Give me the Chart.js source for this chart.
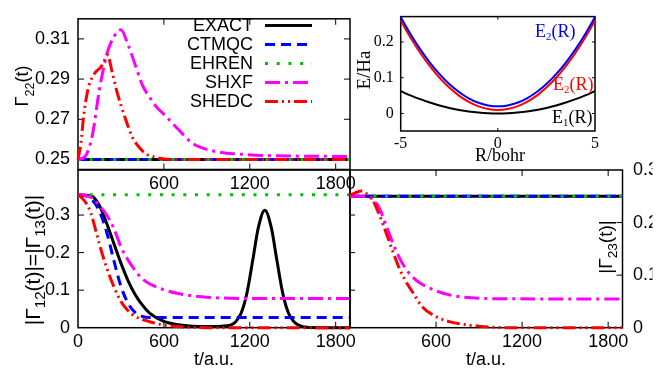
<!DOCTYPE html>
<html>
<head>
<meta charset="utf-8">
<script src="https://cdn.jsdelivr.net/npm/chart.js@4.4.1/dist/chart.umd.min.js"></script>
<style>
html,body{margin:0;padding:0;background:#ffffff;}
#wrap{position:relative;width:662px;height:368px;overflow:hidden;background:#fff;}
#wrap canvas{position:absolute;left:0;top:0;}
</style>
</head>
<body>
<div id="wrap">
<canvas id="cBL" width="662" height="368"></canvas>
<canvas id="cBR" width="662" height="368"></canvas>
<canvas id="cTL" width="662" height="368"></canvas>
<canvas id="cIN" width="662" height="368"></canvas>
</div>
<script>
// ================= DATA =================
const methodNames = ['EXACT', 'CTMQC', 'EHREN', 'SHXF', 'SHEDC'];

// time-axis ticks (t / a.u.)
const timeTickValues = [0, 600, 1200, 1800];
const timeTickLabels = ['0', '600', '1200', '1800'];
const timeTickValuesNoZero = [600, 1200, 1800];
const timeTickLabelsNoZero = ['600', '1200', '1800'];

// --- Panel 1: Gamma_22(t) ---
const g22TickValues = [0.25, 0.27, 0.29, 0.31];
const g22TickLabels = ['0.25', '0.27', '0.29', '0.31'];
const t22Flat = [0, 1900];
const g22Exact = [0.25, 0.25];
const g22Ctmqc = [0.25, 0.25];
const g22Ehren = [0.25, 0.25];
const t22Shxf = [0, 50, 100, 150, 200, 250, 300, 350, 400, 450, 500, 550, 600, 700, 800, 900, 1000, 1100, 1300, 1600, 1900];
const g22Shxf = [0.25, 0.2515, 0.262, 0.285, 0.302, 0.311, 0.3145, 0.307, 0.297, 0.287, 0.281, 0.276, 0.2725, 0.265, 0.258, 0.255, 0.2535, 0.2528, 0.252, 0.2516, 0.2515];
const t22Shedc = [0, 20, 40, 70, 100, 130, 160, 190, 205, 240, 270, 300, 340, 380, 430, 480, 525, 600, 700, 1900];
const g22Shedc = [0.25, 0.258, 0.272, 0.285, 0.291, 0.294, 0.296, 0.300, 0.302, 0.293, 0.2843, 0.277, 0.2685, 0.261, 0.2558, 0.2525, 0.2514, 0.2502, 0.25, 0.25];

// --- Panel 2: |Gamma_12(t)| = |Gamma_13(t)| ---
const g12TickValues = [0, 0.1, 0.2, 0.3];
const g12TickLabels = ['0', '0.1', '0.2', '0.3'];
const t12Flat = [0, 1900];
const g12Ehren = [0.354, 0.354];
const t12Exact = [0, 50, 100, 150, 200, 250, 300, 350, 400, 450, 500, 600, 700, 800, 900, 1000, 1065, 1100, 1140, 1180, 1220, 1260, 1305, 1350, 1390, 1430, 1470, 1510, 1545, 1600, 1700, 1900];
const g12Exact = [0.354, 0.353, 0.35, 0.325, 0.278, 0.225, 0.172, 0.125, 0.088, 0.06, 0.039, 0.017, 0.008, 0.004, 0.003, 0.004, 0.007, 0.015, 0.039, 0.092, 0.178, 0.267, 0.313, 0.267, 0.178, 0.092, 0.039, 0.015, 0.006, 0.001, 0, 0];
const t12Ctmqc = [0, 50, 100, 150, 200, 250, 300, 350, 400, 450, 500, 600, 1900];
const g12Ctmqc = [0.354, 0.352, 0.34, 0.31, 0.255, 0.18, 0.11, 0.065, 0.04, 0.03, 0.027, 0.027, 0.027];
const t12Shxf = [0, 50, 100, 150, 200, 250, 300, 350, 400, 450, 500, 600, 700, 800, 900, 1000, 1200, 1500, 1900];
const g12Shxf = [0.354, 0.353, 0.345, 0.325, 0.3, 0.265, 0.215, 0.18, 0.152, 0.13, 0.117, 0.101, 0.091, 0.085, 0.081, 0.079, 0.078, 0.078, 0.078];
const t12Shedc = [0, 30, 60, 90, 120, 150, 200, 250, 300, 350, 400, 500, 600, 700, 800, 900, 1900];
const g12Shedc = [0.354, 0.345, 0.33, 0.305, 0.265, 0.222, 0.16, 0.11, 0.07, 0.045, 0.03, 0.016, 0.007, 0.003, 0.001, 0, 0];

// --- Panel 3: |Gamma_23(t)| ---
const g23TickValues = [0, 0.1, 0.2, 0.3];
const g23TickLabels = ['0', '0.1', '0.2', '0.3'];
const t23Flat = [0, 1900];
const g23Exact = [0.25, 0.25];
const g23Ctmqc = [0.25, 0.25];
const g23Ehren = [0.25, 0.25];
const t23Shxf = [0, 100, 150, 200, 250, 300, 350, 400, 450, 500, 600, 700, 800, 900, 1100, 1900];
const g23Shxf = [0.25, 0.25, 0.246, 0.23, 0.196, 0.16, 0.13, 0.108, 0.093, 0.083, 0.07, 0.062, 0.058, 0.056, 0.055, 0.0545];
const t23Shedc = [0, 40, 80, 120, 160, 200, 250, 300, 350, 400, 450, 500, 600, 700, 800, 900, 1000, 1100, 1900];
const g23Shedc = [0.252, 0.257, 0.26, 0.254, 0.242, 0.218, 0.182, 0.144, 0.109, 0.083, 0.062, 0.041, 0.021, 0.011, 0.006, 0.003, 0.001, 0, 0];

// --- Inset: potential energy curves ---
const rBohr = [-5, -4.5, -4, -3.5, -3, -2.5, -2, -1.5, -1, -0.5, 0, 0.5, 1, 1.5, 2, 2.5, 3, 3.5, 4, 4.5, 5];
const eOne = [0.0625, 0.0506, 0.04, 0.0306, 0.0225, 0.0156, 0.01, 0.0056, 0.0025, 0.0006, 0, 0.0006, 0.0025, 0.0056, 0.01, 0.0156, 0.0225, 0.0306, 0.04, 0.0506, 0.0625];
const eTwoRed = [0.26, 0.2125, 0.17, 0.1325, 0.1, 0.0725, 0.05, 0.0325, 0.02, 0.0125, 0.01, 0.0125, 0.02, 0.0325, 0.05, 0.0725, 0.1, 0.1325, 0.17, 0.2125, 0.26];
const eTwoBlue = [0.27, 0.2225, 0.18, 0.1425, 0.11, 0.0825, 0.06, 0.0425, 0.03, 0.0225, 0.02, 0.0225, 0.03, 0.0425, 0.06, 0.0825, 0.11, 0.1425, 0.18, 0.2225, 0.27];
const insetXTickValues = [-5, 0, 5];
const insetXTickLabels = ['-5', '0', '5'];
const insetYTickValues = [0, 0.1, 0.2];
const insetYTickLabels = ['0', '0.1', '0.2'];

// ================= STYLES =================
const SANS = "'Liberation Sans', Arial, Helvetica, sans-serif";
const SERIF = "'Liberation Serif', 'Times New Roman', serif";
const STY = {
  EXACT: {color: '#000000', width: 3, dash: []},
  CTMQC: {color: '#0000ff', width: 3, dash: [10, 6]},
  EHREN: {color: '#00c000', width: 3, dash: [3, 8.7]},
  SHXF:  {color: '#ff00ff', width: 3, dash: [15, 5, 3, 5]},
  SHEDC: {color: '#ff0000', width: 3, dash: [13, 4, 2, 4, 2, 4]}
};

function ser(label, t, v, sty) { return {label, t, v, sty}; }

function drawRich(ctx, parts, x, y, opt) {
  const size = opt.size, fam = opt.family;
  const subScale = opt.subScale || 0.7, subDrop = opt.subDrop || 0.28;
  ctx.save();
  ctx.translate(x, y);
  if (opt.rot) ctx.rotate(opt.rot);
  let tw = 0;
  const widths = parts.map(p => {
    ctx.font = (p[1] ? size * subScale : size) + 'px ' + fam;
    const w = ctx.measureText(p[0]).width; tw += w; return w;
  });
  let cx = opt.align === 'right' ? -tw : (opt.align === 'left' ? 0 : -tw / 2);
  const base = 0.36 * size;
  ctx.fillStyle = opt.color || '#000';
  ctx.textBaseline = 'alphabetic';
  ctx.textAlign = 'left';
  parts.forEach((p, i) => {
    ctx.font = (p[1] ? size * subScale : size) + 'px ' + fam;
    ctx.fillText(p[0], cx, base + (p[1] ? subDrop * size : 0));
    cx += widths[i];
  });
  ctx.restore();
}

function buildPanel(id, spec) {
  const W = 662, H = 368, yW = 70, yWR = 30, xH = 30;
  const right = spec.yPos === 'right';
  const a = spec.area;
  const padding = {
    left: right ? a.l : a.l - yW,
    right: right ? W - a.r - yWR : W - a.r,
    top: a.t,
    bottom: H - a.b - xH
  };
  const datasets = spec.series.map((s, i) => ({
    label: s.label,
    data: s.t.map((t, k) => ({x: t, y: s.v[k]})),
    borderColor: s.sty.color,
    borderWidth: s.sty.width,
    borderDash: s.sty.dash,
    borderCapStyle: 'butt',
    borderJoinStyle: 'round',
    pointRadius: 0,
    pointHoverRadius: 0,
    fill: false,
    cubicInterpolationMode: 'monotone',
    clip: false,
    order: spec.series.length - i
  }));
  const frame = {
    id: 'frame_' + id,
    beforeDatasetsDraw(chart) {
      const ctx = chart.ctx, ca = chart.chartArea;
      const xs = chart.scales.x, ys = chart.scales.y;
      ctx.save();
      ctx.strokeStyle = '#000';
      ctx.lineWidth = spec.frameWidth || 1.5;
      ctx.strokeRect(ca.left, ca.top, ca.right - ca.left, ca.bottom - ca.top);
      const m = spec.marks, L = m.len;
      ctx.lineWidth = 1;
      ctx.beginPath();
      (m.bottom || []).forEach(v => { const p = xs.getPixelForValue(v); ctx.moveTo(p, ca.bottom); ctx.lineTo(p, ca.bottom - L); });
      (m.top || []).forEach(v => { const p = xs.getPixelForValue(v); ctx.moveTo(p, ca.top); ctx.lineTo(p, ca.top + L); });
      (m.left || []).forEach(v => { const p = ys.getPixelForValue(v); ctx.moveTo(ca.left, p); ctx.lineTo(ca.left + L, p); });
      (m.right || []).forEach(v => { const p = ys.getPixelForValue(v); ctx.moveTo(ca.right, p); ctx.lineTo(ca.right - (m.rightLen || L), p); });
      ctx.stroke();
      ctx.restore();
    },
    afterDraw(chart) {
      const ctx = chart.ctx;
      (spec.texts || []).forEach(tx => drawRich(ctx, tx.parts, tx.x, tx.y, tx));
      if (spec.legend) {
        const lg = spec.legend;
        lg.items.forEach((s, i) => {
          const y = lg.y0 + i * lg.dy;
          ctx.save();
          ctx.font = lg.size + 'px ' + SANS;
          ctx.fillStyle = '#000';
          ctx.textAlign = 'right';
          ctx.textBaseline = 'middle';
          ctx.fillText(s.label, lg.textX, y + 1);
          ctx.strokeStyle = s.sty.color;
          ctx.lineWidth = s.sty.width;
          ctx.setLineDash(s.sty.dash);
          ctx.lineCap = 'butt';
          ctx.beginPath();
          ctx.moveTo(lg.x1, y);
          ctx.lineTo(lg.x2, y);
          ctx.stroke();
          ctx.restore();
        });
      }
    }
  };
  const tickFont = {family: spec.family || SANS, size: spec.tickSize || 18};
  return new Chart(document.getElementById(id), {
    type: 'line',
    data: {datasets},
    options: {
      responsive: false,
      animation: false,
      devicePixelRatio: 1,
      events: [],
      layout: {padding},
      plugins: {legend: {display: false}, tooltip: {enabled: false}},
      scales: {
        x: {
          type: 'linear', position: 'bottom',
          min: spec.xRange[0], max: spec.xRange[1],
          grid: {display: false, drawTicks: false},
          border: {display: false},
          afterBuildTicks: sc => { sc.ticks = spec.xTicks.map(v => ({value: v})); },
          afterFit: sc => { sc.height = xH; },
          ticks: {font: tickFont, color: '#000', padding: spec.xPad, maxRotation: 0, autoSkip: false,
                  callback: (v, i) => spec.xLabels[i]}
        },
        y: {
          type: 'linear', position: right ? 'right' : 'left',
          min: spec.yRange[0], max: spec.yRange[1],
          grid: {display: false, drawTicks: false},
          border: {display: false},
          afterBuildTicks: sc => { sc.ticks = spec.yTicks.map(v => ({value: v})); },
          afterFit: sc => { sc.width = right ? yWR : yW; },
          ticks: {font: tickFont, color: '#000', padding: spec.yPad, autoSkip: false,
                  callback: (v, i) => spec.yLabels[i]}
        }
      }
    },
    plugins: [frame]
  });
}

const TL_series = [
  ser('EXACT', t22Flat, g22Exact, STY.EXACT),
  ser('CTMQC', t22Flat, g22Ctmqc, STY.CTMQC),
  ser('EHREN', t22Flat, g22Ehren, STY.EHREN),
  ser('SHXF', t22Shxf, g22Shxf, STY.SHXF),
  ser('SHEDC', t22Shedc, g22Shedc, STY.SHEDC)
];

// bottom-left
buildPanel('cBL', {
  area: {l: 78, r: 350, t: 170, b: 327.7},
  xRange: [0, 1900], yRange: [0, 0.42],
  xTicks: timeTickValues, xLabels: timeTickLabels,
  yTicks: g12TickValues, yLabels: g12TickLabels,
  xPad: 3.5, yPad: 8,
  series: [
    ser('EXACT', t12Exact, g12Exact, STY.EXACT),
    ser('CTMQC', t12Ctmqc, g12Ctmqc, STY.CTMQC),
    ser('EHREN', t12Flat, g12Ehren, STY.EHREN),
    ser('SHXF', t12Shxf, g12Shxf, STY.SHXF),
    ser('SHEDC', t12Shedc, g12Shedc, STY.SHEDC)
  ],
  marks: {len: 6, bottom: [600, 1200, 1800], left: [0.1, 0.2, 0.3], right: [0.1, 0.2, 0.3], rightLen: -5},
  texts: [
    {parts: [['|Γ', 0], ['12', 1], ['(t)|=|Γ', 0], ['13', 1], ['(t)|', 0]], x: 32, y: 260, rot: -Math.PI / 2, size: 21, subScale: 0.72, family: SANS},
    {parts: [['t/a.u.', 0]], x: 214, y: 359, size: 18, family: SANS}
  ]
});

// bottom-right
buildPanel('cBR', {
  area: {l: 350, r: 622.5, t: 170, b: 327.7},
  yPos: 'right',
  xRange: [0, 1900], yRange: [0, 0.3],
  xTicks: timeTickValuesNoZero, xLabels: timeTickLabelsNoZero,
  yTicks: g23TickValues, yLabels: g23TickLabels,
  xPad: 3.5, yPad: 10.5,
  series: [
    ser('EXACT', t23Flat, g23Exact, STY.EXACT),
    ser('CTMQC', t23Flat, g23Ctmqc, STY.CTMQC),
    ser('EHREN', t23Flat, g23Ehren, STY.EHREN),
    ser('SHXF', t23Shxf, g23Shxf, STY.SHXF),
    ser('SHEDC', t23Shedc, g23Shedc, STY.SHEDC)
  ],
  marks: {len: 6, bottom: [600, 1200, 1800], top: [600, 1200, 1800], right: [0.1, 0.2]},
  texts: [
    {parts: [['|Γ', 0], ['23', 1], ['(t)|', 0]], x: 605, y: 247, rot: -Math.PI / 2, size: 19, subScale: 0.72, family: SANS},
    {parts: [['t/a.u.', 0]], x: 486, y: 359, size: 18, family: SANS}
  ]
});

// top-left
buildPanel('cTL', {
  area: {l: 78, r: 350, t: 12, b: 169.5},
  xRange: [0, 1900], yRange: [0.245, 0.32],
  xTicks: timeTickValuesNoZero, xLabels: timeTickLabelsNoZero,
  yTicks: g22TickValues, yLabels: g22TickLabels,
  xPad: 3.5, yPad: 8,
  series: TL_series,
  marks: {len: 6, bottom: [600, 1200, 1800], top: [600, 1200, 1800], left: g22TickValues, right: g22TickValues},
  texts: [
    {parts: [['Γ', 0], ['22', 1], ['(t)', 0]], x: 22, y: 86, rot: -Math.PI / 2, size: 18, family: SANS}
  ],
  legend: {items: TL_series, textX: 253, x1: 265, x2: 312, y0: 25.5, dy: 19, size: 18}
});

// inset
buildPanel('cIN', {
  area: {l: 400.7, r: 595, t: 15, b: 131},
  xRange: [-5, 5], yRange: [-0.049, 0.271],
  xTicks: insetXTickValues, xLabels: insetXTickLabels,
  yTicks: insetYTickValues, yLabels: insetYTickLabels,
  family: SERIF, tickSize: 16,
  xPad: 3, yPad: 7,
  frameWidth: 1.5,
  series: [
    ser('E1(R)', rBohr, eOne, {color: '#000000', width: 2, dash: []}),
    ser('E2(R) red', rBohr, eTwoRed, {color: '#ff0000', width: 2, dash: []}),
    ser('E2(R) blue', rBohr, eTwoBlue, {color: '#0000ff', width: 2, dash: []})
  ],
  marks: {len: 3, bottom: [0], top: [0], left: insetYTickValues, right: insetYTickValues},
  texts: [
    {parts: [['E', 0], ['2', 1], ['(R)', 0]], x: 535, y: 31, align: 'left', size: 18, family: SERIF, color: '#0000ff', subScale: 0.6, subDrop: 0.12},
    {parts: [['E', 0], ['2', 1], ['(R)', 0]], x: 553, y: 84, align: 'left', size: 18, family: SERIF, color: '#ff0000', subScale: 0.6, subDrop: 0.12},
    {parts: [['E', 0], ['1', 1], ['(R)', 0]], x: 552, y: 117, align: 'left', size: 18, family: SERIF, color: '#000000', subScale: 0.6, subDrop: 0.12},
    {parts: [['E/Ha', 0]], x: 363, y: 70, rot: -Math.PI / 2, size: 19, family: SERIF},
    {parts: [['R/bohr', 0]], x: 500, y: 155, size: 18, family: SERIF}
  ]
});
</script>
</body>
</html>
